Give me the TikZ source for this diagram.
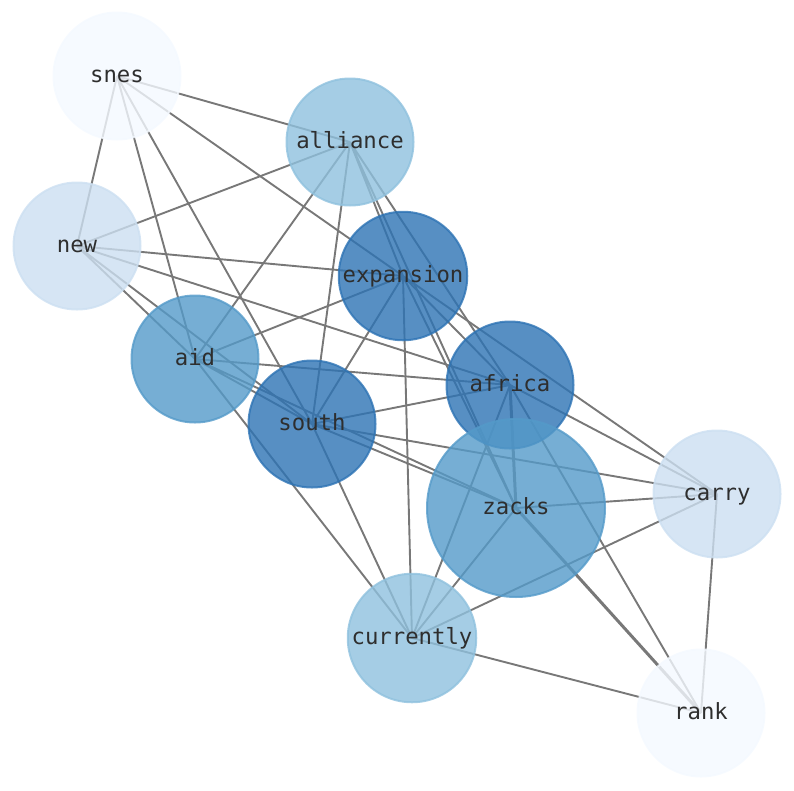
\documentclass[tikz,border=0pt]{standalone}
\usepackage{fontspec}
\setmonofont{DejaVu Sans Mono}
\usepackage{tikz}
\usetikzlibrary{positioning}
\definecolor{degnine}{HTML}{2D73B4}
\definecolor{degeight}{HTML}{549AC9}
\definecolor{degseven}{HTML}{8FC1DE}
\definecolor{degsix}{HTML}{CCDFF1}
\definecolor{degfive}{HTML}{F4F9FF}
\definecolor{edgegray}{HTML}{787878}
\pgfdeclarelayer{bg}
\pgfsetlayers{bg,main}

\begin{document}
\begin{tikzpicture}[x = 1pt, y = -1pt,
  word/.style = {circle, minimum size = 127pt, line width = 2pt, fill = #1, draw = #1,
    fill opacity = .8, draw opacity = .8, text opacity = 1, text = black!82,
    font = \ttfamily\fontsize{22.3}{26}\selectfont, text height = 12.2pt, text depth = 0pt},
  link/.style = {edgegray, line width = 1.9pt},
  heavy/.style = {edgegray, line width = 3pt}]
\useasboundingbox (0,0) rectangle (794,790);
\node[word = degfive] (snes) at (117,76) {snes};
\node[word = degseven] (alliance) at (350,142) {alliance};
\node[word = degsix] (new) at (77,246) {new};
\node[word = degnine] (expansion) at (403,276) {expansion};
\node[word = degeight] (aid) at (195,359) {aid};
\node[word = degnine] (africa) at (510,385) {africa};
\node[word = degnine] (south) at (312,424) {south};
\node[word = degeight, minimum size = 178pt] (zacks) at (516,508) {zacks};
\node[word = degsix] (carry) at (717,494) {carry};
\node[word = degseven] (currently) at (412,638) {currently};
\node[word = degfive] (rank) at (701,713) {rank};
\begin{pgfonlayer}{bg}
\draw[link] (snes.center) -- (new.center) (snes.center) -- (alliance.center) (snes.center) -- (expansion.center) (snes.center) -- (aid.center) (snes.center) -- (south.center);
\draw[link] (new.center) -- (alliance.center) (new.center) -- (expansion.center) (new.center) -- (africa.center) (new.center) -- (aid.center) (new.center) -- (south.center);
\draw[link] (alliance.center) -- (expansion.center) (alliance.center) -- (aid.center) (alliance.center) -- (south.center) (alliance.center) -- (africa.center) (alliance.center) -- (zacks.center);
\draw[link] (expansion.center) -- (aid.center) (expansion.center) -- (south.center) (expansion.center) -- (africa.center) (expansion.center) -- (zacks.center) (expansion.center) -- (carry.center) (expansion.center) -- (currently.center);
\draw[link] (aid.center) -- (africa.center) (aid.center) -- (south.center) (aid.center) -- (zacks.center) (aid.center) -- (currently.center);
\draw[link] (south.center) -- (africa.center) (south.center) -- (zacks.center) (south.center) -- (carry.center) (south.center) -- (currently.center);
\draw[link] (africa.center) -- (carry.center) (africa.center) -- (currently.center) (africa.center) -- (rank.center);
\draw[heavy] (africa.center) -- (zacks.center) (zacks.center) -- (rank.center);
\draw[link] (zacks.center) -- (carry.center) (zacks.center) -- (currently.center);
\draw[link] (carry.center) -- (currently.center) (carry.center) -- (rank.center) (currently.center) -- (rank.center);
\end{pgfonlayer}
\end{tikzpicture}
\end{document}
